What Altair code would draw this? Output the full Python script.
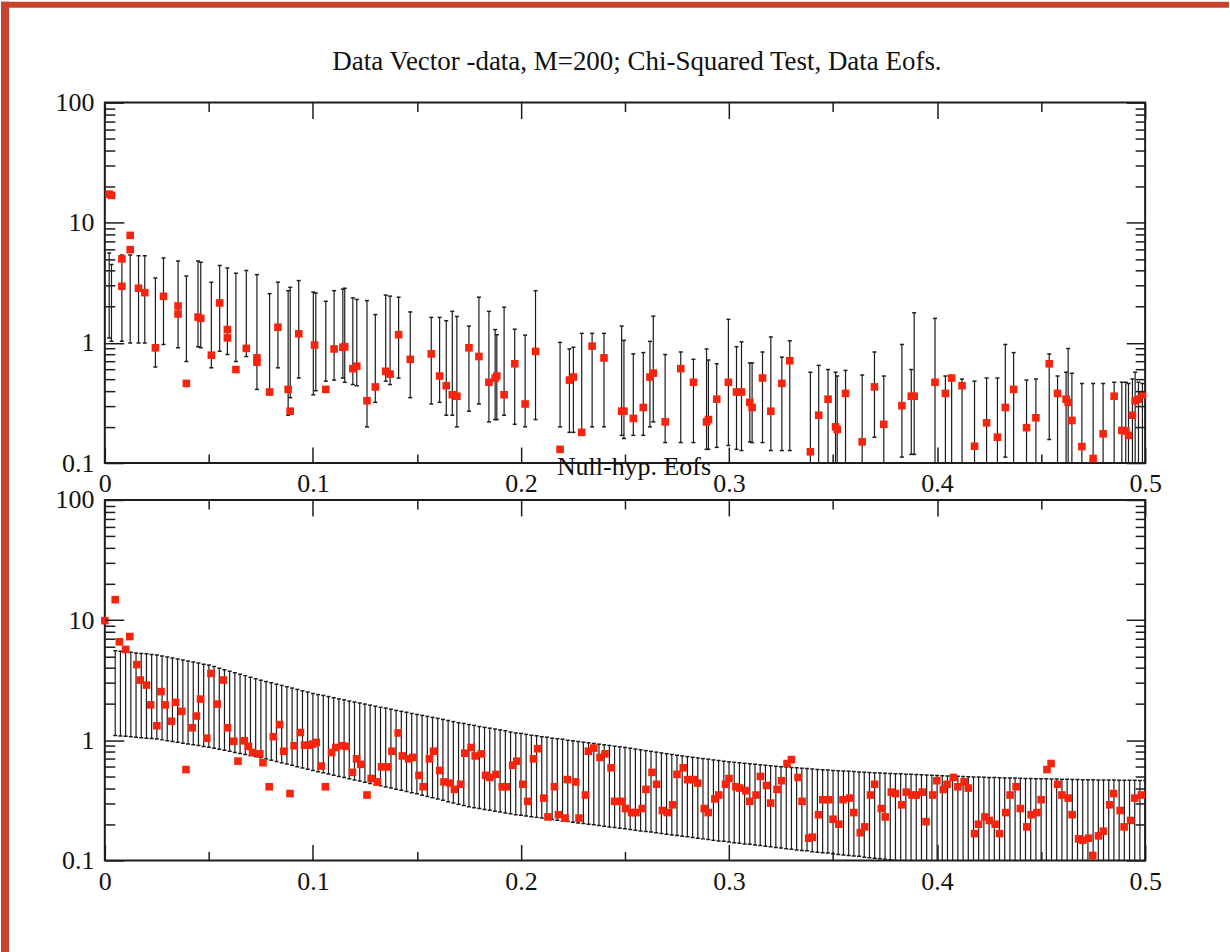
import altair as alt
import pandas as pd

TITLE_TOP = "Data Vector -data, M=200; Chi-Squared Test, Data Eofs."
TITLE_BOTTOM = "Null-hyp. Eofs"

X_MAJOR = [0, 0.1, 0.2, 0.3, 0.4, 0.5]
X_MINOR = [0.05, 0.15, 0.25, 0.35, 0.45]
Y_MAJOR = [0.1, 1, 10, 100]
Y_MINOR = [0.2, 0.3, 0.4, 0.5, 0.6, 0.7, 0.8, 0.9,
           2, 3, 4, 5, 6, 7, 8, 9,
           20, 30, 40, 50, 60, 70, 80, 90]

# ---- top panel: data EOF values (x, value)
top_points = [
    (0.0021, 17.3), (0.0032, 16.9), (0.0082, 5.0), (0.0082, 2.96), (0.0122, 7.85),
    (0.0122, 5.97), (0.0162, 2.85), (0.0192, 2.62), (0.0243, 0.91), (0.0282, 2.44),
    (0.0352, 2.03), (0.0352, 1.74), (0.0392, 0.46), (0.0448, 1.64), (0.0461, 1.60),
    (0.0512, 0.79), (0.0552, 2.15), (0.0589, 1.29), (0.0589, 1.10), (0.0630, 0.60),
    (0.0680, 0.90), (0.0731, 0.75), (0.0731, 0.69), (0.0792, 0.39), (0.0832, 1.35),
    (0.0881, 0.41), (0.0891, 0.27), (0.0932, 1.19), (0.1008, 0.96), (0.1062, 0.41),
    (0.1102, 0.89), (0.1144, 0.92), (0.1153, 0.93), (0.1192, 0.61), (0.1211, 0.64),
    (0.1260, 0.33), (0.1300, 0.43), (0.1350, 0.58), (0.1371, 0.55), (0.1412, 1.17),
    (0.1468, 0.73), (0.1569, 0.81), (0.1609, 0.53), (0.1641, 0.44), (0.1670, 0.37),
    (0.1692, 0.36), (0.1750, 0.91), (0.1798, 0.77), (0.1846, 0.47), (0.1876, 0.51),
    (0.1884, 0.53), (0.1919, 0.37), (0.1970, 0.67), (0.2020, 0.31), (0.2070, 0.85),
    (0.2188, 0.13), (0.2233, 0.49), (0.2252, 0.52), (0.2292, 0.18), (0.2342, 0.94),
    (0.2399, 0.75), (0.2484, 0.27), (0.2495, 0.27), (0.2540, 0.235), (0.2588, 0.29),
    (0.2620, 0.52), (0.2636, 0.56), (0.2693, 0.22), (0.2768, 0.61), (0.2829, 0.47),
    (0.2892, 0.22), (0.2901, 0.23), (0.2941, 0.34), (0.2997, 0.47), (0.3036, 0.39),
    (0.3060, 0.39), (0.3100, 0.32), (0.3111, 0.29), (0.3161, 0.51), (0.3201, 0.27),
    (0.3254, 0.46), (0.3292, 0.71), (0.3391, 0.124), (0.3431, 0.25), (0.3476, 0.34),
    (0.3512, 0.20), (0.3520, 0.19), (0.3560, 0.38), (0.3640, 0.15), (0.3699, 0.43),
    (0.3744, 0.21), (0.3831, 0.30), (0.3876, 0.36), (0.3890, 0.36), (0.3990, 0.47),
    (0.4040, 0.38), (0.4070, 0.51), (0.4120, 0.44), (0.4180, 0.138), (0.4238, 0.216),
    (0.4290, 0.164), (0.4328, 0.29), (0.4368, 0.41), (0.4430, 0.197), (0.4475, 0.238),
    (0.4539, 0.67), (0.4579, 0.38), (0.4620, 0.34), (0.4630, 0.32), (0.4648, 0.226),
    (0.4696, 0.137), (0.4750, 0.109), (0.4798, 0.175), (0.4851, 0.36), (0.4888, 0.187),
    (0.4907, 0.185), (0.4920, 0.17), (0.4939, 0.25), (0.4952, 0.33), (0.4968, 0.34),
    (0.4987, 0.37),
]

# ---- top panel: error bars (x, low, high)
top_bars = [
    (0.0021, 1.1, 5.6), (0.0032, 1.03, 4.5), (0.0082, 1.03, 5.4), (0.0122, 1.0, 5.4),
    (0.0162, 1.0, 5.3), (0.0192, 1.0, 5.3), (0.0243, 0.63, 3.47), (0.0282, 0.97, 5.1),
    (0.0352, 0.91, 4.8), (0.0392, 0.70, 3.6), (0.0448, 0.93, 4.8), (0.0461, 0.91, 4.7),
    (0.0512, 0.62, 3.2), (0.0552, 0.85, 4.4), (0.0589, 0.80, 4.2), (0.0630, 0.70, 3.8),
    (0.0680, 0.77, 4.0), (0.0731, 0.41, 3.7), (0.0792, 0.37, 2.57), (0.0832, 0.62, 3.2),
    (0.0881, 0.25, 2.72), (0.0891, 0.35, 2.9), (0.0932, 0.51, 3.3), (0.1002, 0.37, 2.65),
    (0.1014, 0.40, 2.6), (0.1062, 0.48, 2.22), (0.1102, 0.49, 2.72), (0.1144, 0.51, 2.8),
    (0.1153, 0.47, 2.85), (0.1192, 0.45, 2.37), (0.1211, 0.44, 2.3), (0.1260, 0.20, 2.25),
    (0.1300, 0.32, 1.72), (0.1350, 0.48, 2.5), (0.1371, 0.45, 2.45), (0.1412, 0.51, 2.4),
    (0.1468, 0.35, 1.81), (0.1569, 0.31, 1.63), (0.1609, 0.32, 1.63), (0.1641, 0.25, 1.53),
    (0.1670, 0.25, 1.83), (0.1692, 0.20, 1.66), (0.1750, 0.27, 1.38), (0.1798, 0.31, 2.4),
    (0.1846, 0.22, 1.83), (0.1876, 0.23, 1.29), (0.1884, 0.23, 1.17), (0.1919, 0.25, 1.98),
    (0.1970, 0.21, 1.3), (0.2020, 0.20, 1.16), (0.2070, 0.23, 2.72), (0.2188, 0.20, 1.01),
    (0.2233, 0.18, 0.89), (0.2252, 0.18, 0.92), (0.2292, 0.17, 1.2), (0.2342, 0.20, 1.2),
    (0.2399, 0.20, 1.2), (0.2484, 0.17, 1.38), (0.2495, 0.16, 1.05), (0.2540, 0.17, 0.81),
    (0.2588, 0.17, 0.83), (0.2620, 0.20, 1.03), (0.2636, 0.22, 1.67), (0.2693, 0.148, 0.80),
    (0.2768, 0.148, 0.84), (0.2829, 0.148, 0.73), (0.2892, 0.13, 0.89), (0.2901, 0.13, 0.72),
    (0.2941, 0.135, 0.67), (0.2997, 0.14, 1.57), (0.3036, 0.13, 0.93), (0.3060, 0.127, 1.02),
    (0.3100, 0.15, 0.68), (0.3111, 0.148, 0.68), (0.3161, 0.148, 0.84), (0.3201, 0.127, 1.12),
    (0.3254, 0.127, 0.76), (0.3292, 0.127, 1.04), (0.3391, 0.08, 0.57), (0.3431, 0.08, 0.65),
    (0.3476, 0.08, 0.60), (0.3512, 0.08, 0.57), (0.3520, 0.08, 0.53), (0.3560, 0.08, 0.59),
    (0.3640, 0.08, 0.54), (0.3699, 0.164, 0.84), (0.3744, 0.08, 0.53), (0.3831, 0.112, 0.97),
    (0.3876, 0.118, 0.60), (0.3890, 0.118, 1.78), (0.3990, 0.08, 1.6), (0.4040, 0.08, 0.53),
    (0.4070, 0.08, 0.53), (0.4120, 0.08, 0.50), (0.4180, 0.08, 0.48), (0.4238, 0.08, 0.51),
    (0.4290, 0.08, 0.51), (0.4328, 0.112, 0.97), (0.4368, 0.08, 0.83), (0.4430, 0.08, 0.49),
    (0.4475, 0.08, 0.50), (0.4539, 0.157, 0.81), (0.4579, 0.08, 0.53), (0.4620, 0.08, 0.57),
    (0.4630, 0.08, 0.90), (0.4648, 0.08, 0.56), (0.4696, 0.08, 0.46), (0.4750, 0.08, 0.46),
    (0.4798, 0.08, 0.46), (0.4851, 0.08, 0.47), (0.4888, 0.08, 0.47), (0.4907, 0.08, 0.47),
    (0.4920, 0.08, 0.46), (0.4939, 0.08, 0.50), (0.4952, 0.08, 0.57), (0.4968, 0.08, 0.47),
    (0.4987, 0.08, 0.46),
]

# ---- bottom panel: null-hypothesis EOF values (x, value)
bottom_points = [
    (0.0, 9.9), (0.005, 14.8), (0.007, 6.6), (0.010, 5.7), (0.012, 7.3), (0.0154, 4.26),
    (0.017, 3.17), (0.020, 2.88), (0.022, 1.97), (0.025, 1.32), (0.027, 2.54), (0.029, 1.97),
    (0.032, 1.44), (0.034, 2.07), (0.037, 1.74), (0.039, 0.57), (0.042, 1.27), (0.044, 1.59),
    (0.046, 2.2), (0.049, 1.04), (0.051, 3.6), (0.054, 2.0), (0.057, 3.17), (0.059, 1.27),
    (0.062, 0.98), (0.064, 0.67), (0.067, 0.99), (0.069, 0.89), (0.071, 0.79), (0.0745, 0.77),
    (0.076, 0.65), (0.079, 0.41), (0.081, 1.07), (0.084, 1.35), (0.086, 0.81), (0.089, 0.36),
    (0.091, 0.90), (0.094, 1.16), (0.096, 0.91), (0.098, 0.91), (0.100, 0.93), (0.1016, 0.96),
    (0.104, 0.61), (0.106, 0.41), (0.109, 0.79), (0.111, 0.87), (0.114, 0.90), (0.116, 0.89),
    (0.119, 0.54), (0.121, 0.70), (0.123, 0.63), (0.126, 0.35), (0.128, 0.48), (0.131, 0.45),
    (0.133, 0.60), (0.136, 0.60), (0.138, 0.81), (0.141, 1.15), (0.143, 0.74), (0.146, 0.70),
    (0.148, 0.72), (0.151, 0.51), (0.153, 0.41), (0.156, 0.70), (0.158, 0.81), (0.161, 0.56),
    (0.163, 0.45), (0.166, 0.44), (0.168, 0.39), (0.171, 0.43), (0.173, 0.78), (0.176, 0.87),
    (0.178, 0.74), (0.181, 0.77), (0.183, 0.51), (0.185, 0.49), (0.188, 0.52), (0.191, 0.41),
    (0.193, 0.41), (0.196, 0.62), (0.198, 0.67), (0.2009, 0.43), (0.2033, 0.31), (0.206, 0.70),
    (0.208, 0.85), (0.211, 0.33), (0.213, 0.23), (0.2161, 0.41), (0.218, 0.24), (0.2212, 0.225),
    (0.2223, 0.47), (0.2263, 0.45), (0.2279, 0.225), (0.231, 0.35), (0.2324, 0.81), (0.235, 0.86),
    (0.238, 0.72), (0.2404, 0.77), (0.2433, 0.59), (0.245, 0.31), (0.2484, 0.31), (0.2503, 0.27),
    (0.2532, 0.25), (0.2553, 0.25), (0.2583, 0.27), (0.2601, 0.39), (0.263, 0.54), (0.2652, 0.43),
    (0.268, 0.26), (0.2703, 0.25), (0.2729, 0.29), (0.275, 0.52), (0.278, 0.59), (0.2801, 0.47),
    (0.2828, 0.47), (0.285, 0.44), (0.2881, 0.27), (0.290, 0.25), (0.2932, 0.325), (0.2951, 0.35),
    (0.2983, 0.43), (0.300, 0.48), (0.3033, 0.41), (0.3052, 0.40), (0.3081, 0.38), (0.310, 0.31),
    (0.313, 0.35), (0.3151, 0.50), (0.318, 0.42), (0.320, 0.30), (0.3231, 0.39), (0.3252, 0.46),
    (0.3279, 0.64), (0.330, 0.69), (0.3332, 0.49), (0.3351, 0.31), (0.3383, 0.153), (0.3401, 0.156),
    (0.343, 0.24), (0.3451, 0.32), (0.348, 0.32), (0.350, 0.22), (0.3528, 0.20), (0.3548, 0.32),
    (0.358, 0.33), (0.360, 0.25), (0.3631, 0.17), (0.3652, 0.19), (0.368, 0.35), (0.370, 0.43),
    (0.3732, 0.27), (0.3751, 0.23), (0.378, 0.37), (0.380, 0.36), (0.383, 0.29), (0.3852, 0.37),
    (0.388, 0.35), (0.390, 0.35), (0.3929, 0.37), (0.3947, 0.21), (0.3979, 0.35), (0.3999, 0.46),
    (0.403, 0.39), (0.4048, 0.43), (0.4078, 0.49), (0.410, 0.41), (0.413, 0.45), (0.415, 0.40),
    (0.418, 0.167), (0.4199, 0.20), (0.423, 0.23), (0.4251, 0.215), (0.4279, 0.20), (0.430, 0.167),
    (0.433, 0.25), (0.4351, 0.35), (0.438, 0.41), (0.440, 0.27), (0.4431, 0.19), (0.4452, 0.24),
    (0.448, 0.25), (0.450, 0.32), (0.4528, 0.57), (0.4548, 0.64), (0.458, 0.43), (0.460, 0.35),
    (0.463, 0.33), (0.4649, 0.24), (0.468, 0.151), (0.470, 0.147), (0.4728, 0.153), (0.4748, 0.110),
    (0.4776, 0.16), (0.4799, 0.175), (0.483, 0.29), (0.4848, 0.36), (0.488, 0.26), (0.4899, 0.19),
    (0.493, 0.215), (0.495, 0.33), (0.4982, 0.35),
]

# ---- bottom panel: null-hypothesis bands, one bar every 0.0025 from 0.005 to 0.5
band_x = [round(0.0025 * k, 4) for k in range(2, 201)]
band_upper = [
    5.56, 5.51, 5.45, 5.40, 5.33, 5.28, 5.24, 5.18, 5.13,
    5.03, 4.93, 4.84, 4.74, 4.65, 4.56, 4.47, 4.39, 4.30, 4.22,
    4.10, 3.98, 3.87, 3.76, 3.65, 3.55, 3.45, 3.35, 3.25, 3.16,
    3.08, 3.01, 2.93, 2.86, 2.79, 2.72, 2.65, 2.58, 2.52, 2.45,
    2.40, 2.36, 2.31, 2.26, 2.21, 2.17, 2.12, 2.08, 2.04, 2.00,
    1.96, 1.92, 1.88, 1.85, 1.81, 1.77, 1.74, 1.71, 1.67, 1.64,
    1.61, 1.58, 1.55, 1.52, 1.49, 1.46, 1.43, 1.40, 1.38, 1.35,
    1.33, 1.30, 1.28, 1.26, 1.24, 1.22, 1.20, 1.17, 1.15, 1.14,
    1.12, 1.10, 1.09, 1.07, 1.06, 1.04, 1.03, 1.02, 1.00, 0.99,
    0.976, 0.964, 0.952, 0.940, 0.928, 0.916, 0.905, 0.893, 0.882, 0.871,
    0.858, 0.845, 0.833, 0.820, 0.808, 0.796, 0.784, 0.773, 0.761, 0.750,
    0.741, 0.731, 0.722, 0.713, 0.704, 0.695, 0.686, 0.678, 0.669, 0.661,
    0.655, 0.649, 0.643, 0.637, 0.631, 0.625, 0.619, 0.614, 0.608, 0.603,
    0.598, 0.594, 0.589, 0.585, 0.581, 0.576, 0.572, 0.568, 0.564, 0.560,
    0.557, 0.554, 0.551, 0.548, 0.545, 0.542, 0.539, 0.537, 0.534, 0.531,
    0.529, 0.527, 0.525, 0.522, 0.520, 0.518, 0.516, 0.513, 0.511, 0.508,
    0.506, 0.504, 0.503, 0.501, 0.499, 0.497, 0.495, 0.494, 0.492, 0.490,
    0.489, 0.488, 0.486, 0.485, 0.484, 0.483, 0.481, 0.480, 0.479, 0.478,
    0.477, 0.476, 0.475, 0.474, 0.473, 0.472, 0.471, 0.470, 0.469, 0.468,
    0.467, 0.467, 0.466, 0.466, 0.465, 0.465, 0.464, 0.464, 0.463, 0.462,
]
band_lower = [
    1.096, 1.087, 1.078, 1.069, 1.059, 1.050, 1.041, 1.033, 1.023,
    1.007, 0.992, 0.976, 0.961, 0.946, 0.932, 0.917, 0.903, 0.889, 0.875,
    0.858, 0.841, 0.824, 0.808, 0.792, 0.776, 0.760, 0.745, 0.731, 0.716,
    0.699, 0.682, 0.665, 0.649, 0.633, 0.618, 0.603, 0.588, 0.574, 0.560,
    0.547, 0.535, 0.523, 0.511, 0.500, 0.489, 0.478, 0.467, 0.457, 0.447,
    0.437, 0.427, 0.418, 0.409, 0.400, 0.391, 0.383, 0.374, 0.366, 0.358,
    0.349, 0.340, 0.332, 0.324, 0.316, 0.308, 0.300, 0.293, 0.286, 0.279,
    0.274, 0.270, 0.265, 0.261, 0.257, 0.253, 0.248, 0.244, 0.240, 0.237,
    0.234, 0.231, 0.228, 0.225, 0.222, 0.219, 0.216, 0.213, 0.211, 0.208,
    0.205, 0.203, 0.200, 0.198, 0.195, 0.192, 0.190, 0.188, 0.185, 0.183,
    0.181, 0.178, 0.176, 0.174, 0.172, 0.170, 0.167, 0.165, 0.163, 0.161,
    0.159, 0.157, 0.155, 0.153, 0.151, 0.149, 0.147, 0.145, 0.144, 0.142,
    0.140, 0.139, 0.137, 0.136, 0.134, 0.133, 0.131, 0.130, 0.128, 0.127,
    0.125, 0.124, 0.122, 0.121, 0.120, 0.118, 0.117, 0.116, 0.115, 0.1135,
    0.112, 0.111, 0.110, 0.109, 0.108, 0.106, 0.105, 0.104, 0.103, 0.102,
    0.101, 0.100, 0.099, 0.098, 0.097, 0.096, 0.095, 0.095, 0.094, 0.093,
    0.093, 0.092, 0.091, 0.091, 0.090, 0.089, 0.089, 0.088, 0.088, 0.087,
    0.087, 0.086, 0.086, 0.085, 0.085, 0.084, 0.084, 0.083, 0.083, 0.082,
    0.082, 0.081, 0.081, 0.081, 0.080, 0.080, 0.079, 0.079, 0.079, 0.078,
    0.078, 0.078, 0.077, 0.077, 0.077, 0.076, 0.076, 0.076, 0.076, 0.076,
]

# ---------------------------------------------------------------- styling
FONT = "Liberation Serif"
RED = "#f6230d"
FRAME_RED = "#c8432b"
INK = "#1c1c1c"
W, H = 1042, 361

xs = alt.Scale(domain=[0, 0.5], nice=False, zero=False)
ys = alt.Scale(type="log", domain=[0.1, 100], nice=False)


def axis(orient, values, size, labels, pad=8):
    kw = dict(orient=orient, values=values, tickSize=size, offset=-size,
              domain=False, grid=False, labels=labels, title=None,
              tickColor=INK, tickWidth=1.5, zindex=1)
    if labels:
        kw.update(format="~g", labelFont=FONT, labelFontSize=26,
                  labelColor="#111111", labelFlush=False, labelOverlap=False,
                  labelPadding=pad)
    return alt.Axis(**kw)


def panel(points, bars_df, title, extra=()):
    pts_df = pd.DataFrame(points, columns=["x", "y"])
    rules = alt.Chart(bars_df).mark_rule(color=INK, strokeWidth=1.2, clip=True).encode(
        x=alt.X("x:Q", scale=xs, axis=axis("bottom", X_MAJOR, 16, True, 8)),
        y=alt.Y("lo:Q", scale=ys, axis=axis("left", Y_MAJOR, 19, True, 11)),
        y2="hi:Q",
    )
    caps_hi = alt.Chart(bars_df).mark_tick(
        orient="horizontal", size=4, thickness=1.5, color=INK, clip=True, opacity=1
    ).encode(
        x=alt.X("x:Q", scale=xs, axis=axis("bottom", X_MINOR, 9, False)),
        y=alt.Y("hi:Q", scale=ys, axis=axis("left", Y_MINOR, 10, False)),
    )
    caps_lo = alt.Chart(bars_df).mark_tick(
        orient="horizontal", size=4, thickness=1.5, color=INK, clip=True, opacity=1
    ).encode(
        x=alt.X("x:Q", scale=xs, axis=axis("top", X_MAJOR, 16, False)),
        y=alt.Y("lo:Q", scale=ys, axis=axis("right", Y_MAJOR, 19, False)),
    )
    dots = alt.Chart(pts_df).mark_square(size=58, color=RED, opacity=1).encode(
        x=alt.X("x:Q", scale=xs, axis=axis("top", X_MINOR, 9, False)),
        y=alt.Y("y:Q", scale=ys, axis=axis("right", Y_MINOR, 10, False)),
    )
    return (
        alt.layer(rules, caps_hi, caps_lo, dots, *extra)
        .resolve_axis(x="independent", y="independent")
        .properties(width=W, height=H, title=title)
    )


top_bars_df = pd.DataFrame(top_bars, columns=["x", "lo", "hi"])
band_df = pd.DataFrame({"x": band_x, "lo": band_lower, "hi": band_upper})

# red page edge (left and top strips) drawn around the white sheet
edge_src = pd.DataFrame({"k": [0]})
edge_left = alt.Chart(edge_src).mark_rect(color=FRAME_RED).encode(
    x=alt.value(-104), x2=alt.value(-96), y=alt.value(-499), y2=alt.value(453)
)
edge_top = alt.Chart(edge_src).mark_rect(color=FRAME_RED).encode(
    x=alt.value(-104), x2=alt.value(1126), y=alt.value(-499), y2=alt.value(-493)
)

title_top = alt.TitleParams(
    TITLE_TOP, font=FONT, fontSize=27, fontWeight="normal", color="#111111",
    anchor="middle", frame="group", baseline="alphabetic", offset=-7, dx=12,
)
title_bottom = alt.TitleParams(
    TITLE_BOTTOM, font=FONT, fontSize=26, fontWeight="normal", color="#111111",
    anchor="middle", frame="group", baseline="alphabetic", offset=-500, dx=9,
)

p1 = panel(top_points, top_bars_df, title_top)
p2 = panel(bottom_points, band_df, title_bottom, extra=(edge_left, edge_top))

chart = (
    alt.vconcat(p1, p2, spacing=37, bounds="flush")
    .properties(padding=0, background="white")
    .configure_view(stroke=INK, strokeWidth=2)
)

chart.save("out.html", embed_options={"renderer": "svg", "actions": False})
